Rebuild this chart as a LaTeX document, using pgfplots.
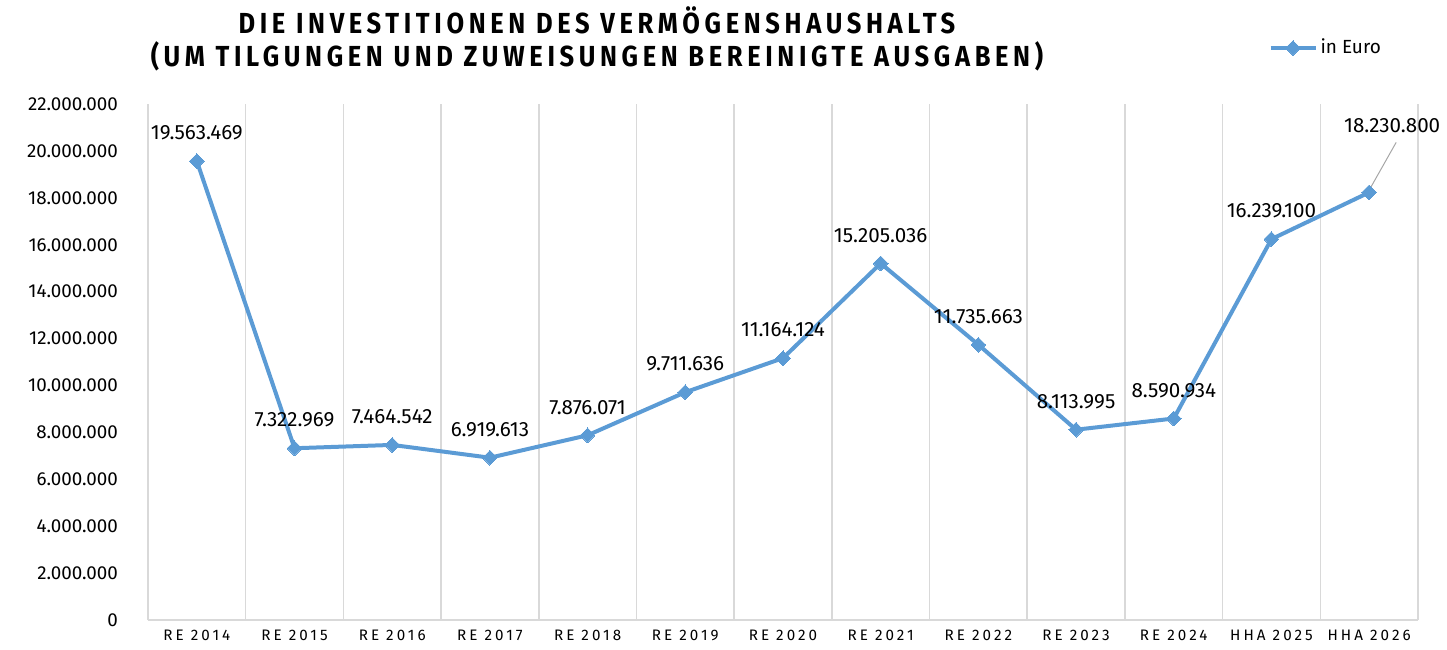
\documentclass[border=0pt]{standalone}
\usepackage{pgfplots}
\pgfplotsset{compat=1.18}
\usepackage{fontspec}
\setmainfont{Fira Sans}
\newfontfamily\spaced{Fira Sans}[LetterSpace=20]
\newfontfamily\titlefont{Fira Sans}[LetterSpace=16, FakeStretch=0.88]
\definecolor{linie}{HTML}{5B9BD5}
\definecolor{gitter}{HTML}{D9D9D9}

\begin{document}
\begin{tikzpicture}
\useasboundingbox (-74pt,-14.5pt) rectangle (649.5pt,310pt);
\begin{axis}[
  scale only axis,
  width=635pt, height=258pt,
  xmin=-0.5, xmax=12.5,
  ymin=0, ymax=22000000,
  clip=false,
  axis x line*=bottom, axis y line*=left,
  x axis line style={draw=gitter, line width=0.8pt, -},
  y axis line style={draw=none},
  xtick={0,...,12},
  xticklabels={RE 2014,RE 2015,RE 2016,RE 2017,RE 2018,RE 2019,RE 2020,RE 2021,RE 2022,RE 2023,RE 2024,HHA 2025,HHA 2026},
  xticklabel style={font=\spaced\fontsize{7.6}{8}\selectfont, yshift=-1.5pt},
  ytick={0,2000000,...,22000000},
  scaled y ticks=false,
  yticklabel style={font=\fontsize{9.4}{10}\selectfont, xshift=-11.5pt,
    /pgf/number format/.cd, fixed, 1000 sep={.}, assume math mode=true},
  tick style={draw=none},
  extra x ticks={-0.5,0.5,...,12.5},
  extra x tick labels={},
  extra x tick style={grid=major, major grid style={draw=gitter, line width=0.8pt}, tick style={draw=none}},
  legend style={draw=none, fill=none, at={(rel axis cs:0.882,1.1085)}, anchor=west,
    inner sep=0pt, font=\fontsize{9.5}{11}\selectfont,
    nodes={inner sep=1.5pt}},
  legend image code/.code={\draw[#1,mark repeat=2,mark phase=2] plot coordinates {(0pt,0pt)(11.25pt,0pt)(22.5pt,0pt)};},
  point meta=explicit symbolic,
  nodes near coords,
  nodes near coords style={font=\fontsize{10.3}{11}\selectfont, text=black, anchor=south, inner sep=0pt, yshift=10.5pt},
]
\addplot[color=linie, line width=2pt, mark=square*, mark size=2.6pt, mark options={fill=linie, draw=linie, line width=0pt, rotate=45}]
  table[col sep=comma, x=x, y=y, meta=lab] {
x,y,lab
0,19563469,19.563.469
1,7322969,7.322.969
2,7464542,7.464.542
3,6919613,6.919.613
4,7876071,7.876.071
5,9711636,9.711.636
6,11164124,11.164.124
7,15205036,15.205.036
8,11735663,11.735.663
9,8113995,8.113.995
10,8590934,8.590.934
11,16239100,16.239.100
12,18230800,
};
\addlegendentry{in Euro}
\draw[gray!70, line width=0.5pt] (axis cs:12,18230800) ++(0.5pt,2pt) -- ++(13pt,23pt);
\node[font=\fontsize{10.3}{11}\selectfont, inner sep=0pt] at (axis cs:12,18230800) [xshift=11.5pt, yshift=33.5pt] {18.230.800};
\node[font=\titlefont\bfseries\fontsize{14.5}{16.5}\selectfont, align=center, inner sep=0pt]
  at (rel axis cs:0.3535,1) [yshift=32.75pt] {DIE INVESTITIONEN DES VERMÖGENSHAUSHALTS\\(UM TILGUNGEN UND ZUWEISUNGEN BEREINIGTE AUSGABEN)};
\end{axis}
\end{tikzpicture}
\end{document}
